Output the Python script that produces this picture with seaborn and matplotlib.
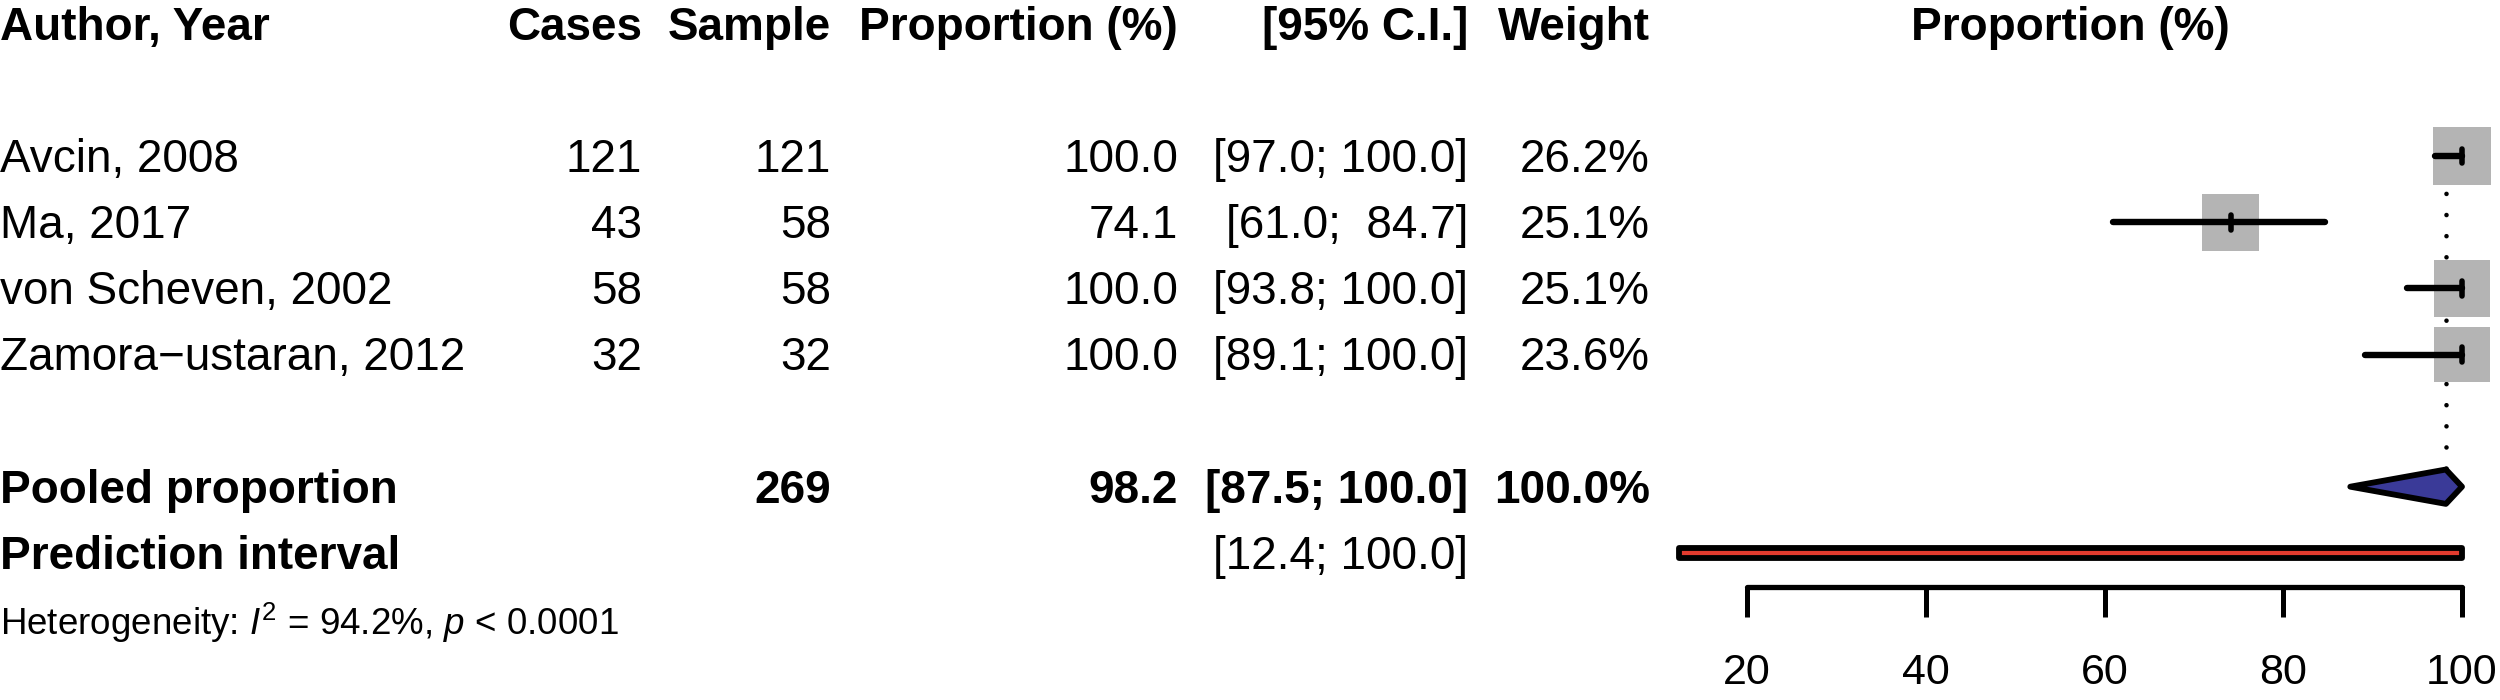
import numpy as np
import pandas as pd
import seaborn as sns
import matplotlib.pyplot as plt
from matplotlib.patches import Polygon, Rectangle
from matplotlib.transforms import blended_transform_factory

# study level data
studies = ["Avcin, 2008", "Ma, 2017", "von Scheven, 2002", "Zamora\u2212ustaran, 2012"]
cases = [121, 43, 58, 32]
samples = [121, 58, 58, 32]
props = [100.0, 74.1, 100.0, 100.0]
ci_low = [97.0, 61.0, 93.8, 89.1]
ci_high = [100.0, 84.7, 100.0, 100.0]
weights = [26.2, 25.1, 25.1, 23.6]

# pooled results
pooled_total = 269
pooled_est = 98.2
pooled_ci = [87.5, 100.0]
pred_ci = [12.4, 100.0]
i2 = 94.2
p_text = "< 0.0001"
ticks = [20, 40, 60, 80, 100]

sns.set_theme(style="white", rc={"text.color": "black", "xtick.color": "black",
                                 "axes.edgecolor": "black", "axes.labelcolor": "black"})
plt.rcParams["font.family"] = ["Liberation Sans", "DejaVu Sans"]
plt.rcParams["mathtext.fontset"] = "custom"
plt.rcParams["mathtext.rm"] = "Liberation Sans"
plt.rcParams["mathtext.it"] = "Liberation Sans:italic"

W, H = 2500, 700
x0_px = 1747          # pixel of value 20
px_per_unit = 8.9375  # forest scale
row_px = 66.1
top_px = 24
fs = 33

fig = plt.figure(figsize=(W / 100, H / 100), dpi=100)
ax = fig.add_axes([0, 0, 1, 1])

study_rows = np.arange(2, 2 + len(studies))
pooled_row = study_rows[-1] + 2
pred_row = pooled_row + 1
het_row = pred_row + 1

# squares
df = pd.DataFrame({"est": props, "row": study_rows, "w": weights})
side_pt = 41 * np.sqrt(df["w"] / 25.1)
sns.scatterplot(data=df, x="est", y="row", marker="s", s=side_pt ** 2, color="#B4B4B4",
                linewidth=0, ax=ax, zorder=2, legend=False)

# confidence intervals and point marks
ax.hlines(study_rows, ci_low, ci_high, color="black", lw=4.6, capstyle="round", zorder=3)
ax.vlines(props, study_rows - 0.11, study_rows + 0.11, color="black", lw=4,
          capstyle="round", zorder=3)

# dotted line at pooled estimate
dh = 0.26
ax.plot([pooled_est, pooled_est], [study_rows[0] - 0.4, pooled_row - dh], color="black",
        lw=3.3, ls=(0, (0.01, 4.6)), dash_capstyle="round", zorder=1)

# pooled diamond
diamond = Polygon([(pooled_ci[0], pooled_row), (pooled_est, pooled_row - dh),
                   (pooled_ci[1], pooled_row), (pooled_est, pooled_row + dh)],
                  closed=True, facecolor="#3A3A98", edgecolor="black", lw=4.2,
                  joinstyle="round", zorder=3)
ax.add_patch(diamond)

# prediction interval bar
ax.add_patch(Rectangle((pred_ci[0], pred_row - 0.08), pred_ci[1] - pred_ci[0], 0.16,
                       facecolor="#E23B2E", edgecolor="black", lw=4.2, joinstyle="round",
                       zorder=3))

ax.set_xlim(20 - x0_px / px_per_unit, 20 + (W - x0_px) / px_per_unit)
ax.set_ylim((H - top_px) / row_px, -top_px / row_px)
ax.set_xlabel("")
ax.set_ylabel("")
ax.set_yticks([])

# axis
for s in ["top", "left", "right"]:
    ax.spines[s].set_visible(False)
ax.spines["bottom"].set_position(("data", (587 - top_px) / row_px))
ax.spines["bottom"].set_bounds(ticks[0], ticks[-1])
ax.spines["bottom"].set_linewidth(3.8)
ax.spines["bottom"].set_capstyle("round")
ax.set_xticks(ticks)
ax.set_xticklabels([str(t) for t in ticks])
ax.tick_params(axis="x", bottom=True, direction="out", length=21.6, width=3.6,
               pad=26, labelsize=31, colors="black")
ax.set_facecolor("white")

# table text
tr = blended_transform_factory(ax.transAxes, ax.transData)
base = 0.24
col = {"name": 0, "cases": 642, "sample": 831, "prop": 1178, "ci": 1468, "weight": 1650}


def put(key, row, s, ha="right", bold=False, size=fs):
    ax.text(col[key] / W, row + base, s, transform=tr, ha=ha, va="baseline", fontsize=size,
            fontweight="bold" if bold else "normal")


put("name", 0, "Author, Year", ha="left", bold=True)
put("cases", 0, "Cases", bold=True)
put("sample", 0, "Sample", bold=True)
put("prop", 0, "Proportion (%)", bold=True)
put("ci", 0, "[95% C.I.]", bold=True)
put("weight", 0, "Weight", bold=True)
ax.text((pred_ci[0] + pred_ci[1]) / 2, base, "Proportion (%)", ha="center", va="baseline",
        fontsize=fs, fontweight="bold")

for i, r in enumerate(study_rows):
    put("name", r, studies[i], ha="left")
    put("cases", r, f"{cases[i]}")
    put("sample", r, f"{samples[i]}")
    put("prop", r, f"{props[i]:.1f}")
    put("ci", r, f"[{ci_low[i]:4.1f}; {ci_high[i]:5.1f}]")
    put("weight", r, f"{weights[i]:.1f}%")

put("name", pooled_row, "Pooled proportion", ha="left", bold=True)
put("sample", pooled_row, f"{pooled_total}", bold=True)
put("prop", pooled_row, f"{pooled_est:.1f}", bold=True)
put("ci", pooled_row, f"[{pooled_ci[0]:4.1f}; {pooled_ci[1]:5.1f}]", bold=True)
put("weight", pooled_row, f"{sum(weights):.1f}%", bold=True)

put("name", pred_row, "Prediction interval", ha="left", bold=True)
put("ci", pred_row, f"[{pred_ci[0]:4.1f}; {pred_ci[1]:5.1f}]")

put("name", het_row, f"Heterogeneity: $I^2$ = {i2:.1f}%, $p$ {p_text}", ha="left", size=26.5)

fig.savefig("out.png", dpi=100, facecolor="white")
